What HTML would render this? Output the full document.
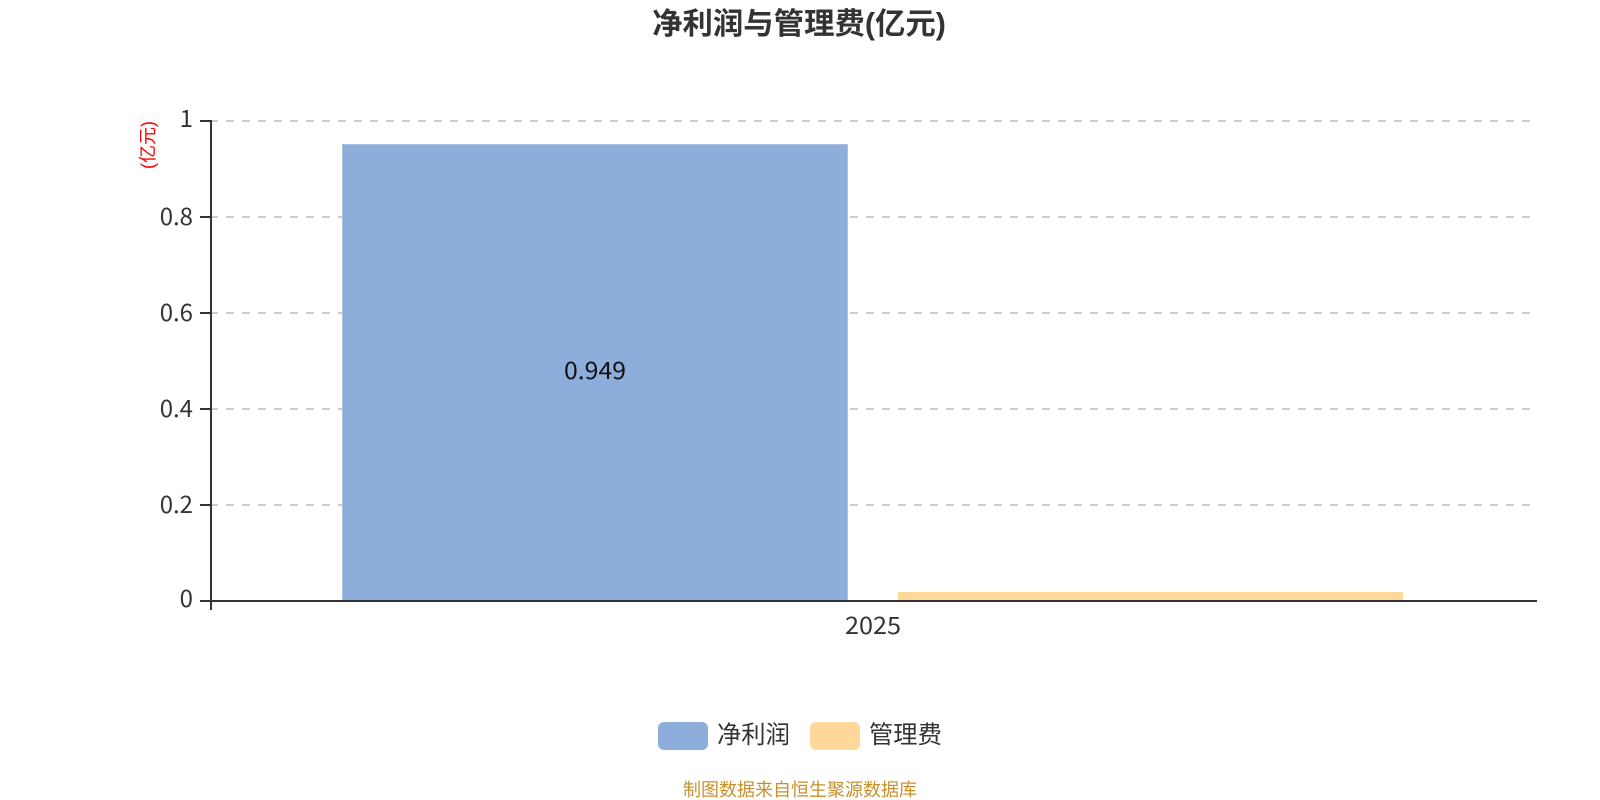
<!DOCTYPE html>
<html><head><meta charset="utf-8">
<style>
html,body{margin:0;padding:0;background:#fff;width:1600px;height:800px;overflow:hidden}
svg{display:block}
text{font-family:"Liberation Sans","Noto Sans CJK SC",sans-serif}
.n{font-family:"Noto Sans CJK SC","Liberation Sans",sans-serif}
</style></head><body>
<svg width="1600" height="800" viewBox="0 0 1600 800" xmlns="http://www.w3.org/2000/svg">
<rect width="1600" height="800" fill="#fff"/>
<text x="799" y="34" text-anchor="middle" font-size="30.4" font-weight="700" fill="#333">净利润与管理费(亿元)</text>
<g stroke="#ccc" stroke-width="2" stroke-dasharray="8 8">
<line x1="210" x2="1531" y1="121" y2="121"/>
<line x1="210" x2="1531" y1="217" y2="217"/>
<line x1="210" x2="1531" y1="313" y2="313"/>
<line x1="210" x2="1531" y1="409" y2="409"/>
<line x1="210" x2="1531" y1="505" y2="505"/>
</g>
<rect x="342.5" y="144.5" width="505" height="456.5" fill="#8dadda" stroke="#a9c2e4" stroke-width="1"/>
<rect x="898" y="592" width="505" height="9" fill="#ffd89a"/>
<g stroke="#333" stroke-width="2" fill="none">
<line x1="211" x2="211" y1="120" y2="610"/>
<line x1="200" x2="1537" y1="601" y2="601"/>
<line x1="200" x2="211" y1="121" y2="121"/>
<line x1="200" x2="211" y1="217" y2="217"/>
<line x1="200" x2="211" y1="313" y2="313"/>
<line x1="200" x2="211" y1="409" y2="409"/>
<line x1="200" x2="211" y1="505" y2="505"/>
</g>
<g class="n" font-size="24" fill="#333" text-anchor="end">
<text class="n" x="193" y="127">1</text>
<text class="n" x="193" y="225">0.8</text>
<text class="n" x="193" y="321">0.6</text>
<text class="n" x="193" y="417">0.4</text>
<text class="n" x="193" y="513">0.2</text>
<text class="n" x="193" y="607">0</text>
</g>
<text class="n" x="845" y="634" font-size="24" fill="#333" textLength="56" lengthAdjust="spacingAndGlyphs">2025</text>
<text class="n" x="564" y="379" font-size="24" fill="#111" textLength="62" lengthAdjust="spacingAndGlyphs">0.949</text>
<text transform="translate(149,145) rotate(-90)" text-anchor="middle" dominant-baseline="middle" font-size="18" fill="#f00">(亿元)</text>
<rect x="658" y="722" width="50" height="28" rx="6" fill="#8dadda"/>
<text x="717" y="743" font-size="24.3" fill="#333">净利润</text>
<rect x="810" y="722" width="50" height="28" rx="6" fill="#ffd89a"/>
<text x="869" y="743" font-size="24.3" fill="#333">管理费</text>
<text x="800" y="796" text-anchor="middle" font-size="18" fill="#c8902a">制图数据来自恒生聚源数据库</text>
</svg>
</body></html>
